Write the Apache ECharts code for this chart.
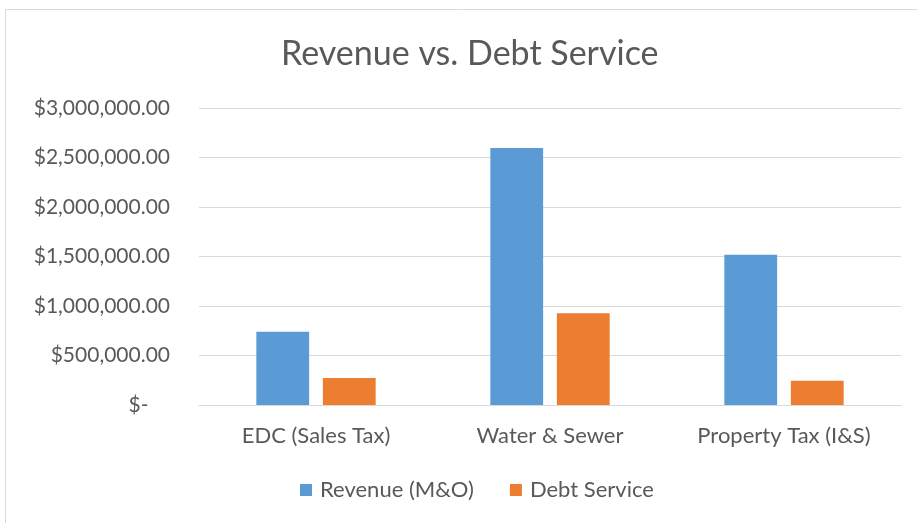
<!DOCTYPE html>
<html><head><meta charset="utf-8">
<script src="https://cdn.jsdelivr.net/npm/echarts@6/dist/echarts.min.js"></script>
<style>html,body{margin:0;padding:0;background:#fff}#c{width:917px;height:523px}</style>
</head><body><div id="c"></div>
<script>
const categories = ['EDC (Sales Tax)', 'Water & Sewer', 'Property Tax (I&S)'];
const revenue = [740000, 2596000, 1518000];
const debtService = [273000, 926000, 245000];
const seriesNames = ['Revenue (M&O)', 'Debt Service'];
const FONT = 'Lato';
function fmt(v){
  if (v === 0) return '$-    ';
  return '$' + v.toLocaleString('en-US', {minimumFractionDigits:2, maximumFractionDigits:2});
}
const chart = echarts.init(document.getElementById('c'));
chart.setOption({
  animation:false,
  textStyle:{fontFamily:FONT},
  title:{text:'Revenue vs. Debt Service', left:276, top:32,
    textStyle:{fontFamily:FONT, fontSize:34, fontWeight:'normal', color:'#595959'}},
  graphic:[{type:'rect', shape:{x:5.5, y:9.5, width:1000, height:1000}, style:{fill:'none', stroke:'#d9d9d9', lineWidth:1}}],
  grid:{left:199, right:16, top:108, bottom:118, containLabel:false},
  legend:{bottom:17, left:295, itemWidth:12, itemHeight:12, itemGap:36,
    icon:'rect', textStyle:{fontFamily:FONT, fontSize:22, color:'#595959', padding:[0,0,0,3]}, data:seriesNames},
  xAxis:{type:'category', data:categories,
    axisLine:{lineStyle:{color:'#d9d9d9'}}, axisTick:{show:false},
    axisLabel:{fontFamily:FONT, fontSize:22, color:'#595959', margin:20}},
  yAxis:{type:'value', min:0, max:3000000, interval:500000,
    axisLine:{show:false}, axisTick:{show:false},
    splitLine:{lineStyle:{color:'#d9d9d9', width:1}},
    axisLabel:{fontFamily:FONT, fontSize:21, color:'#595959', margin:29, formatter:fmt}},
  series:[
    {name:seriesNames[0], type:'bar', data:revenue, barGap:'26%', barCategoryGap:'49%',
     itemStyle:{color:'#5B9BD5'}},
    {name:seriesNames[1], type:'bar', data:debtService,
     itemStyle:{color:'#ED7D31'}}
  ]
});
</script></body></html>
